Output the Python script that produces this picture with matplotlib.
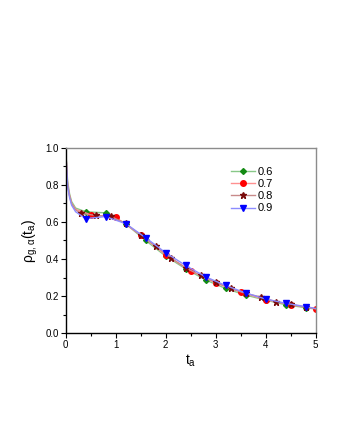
"""Relaxation of rho_{g,alpha}(t_a) for several alpha values."""

import matplotlib.pyplot as plt
from matplotlib.ticker import MultipleLocator

plt.rcParams["font.family"] = ["Liberation Sans", "DejaVu Sans"]

labels = ["0.6", "0.7", "0.8", "0.9"]
x_ticks = [0, 1, 2, 3, 4, 5]
y_ticks = [0.0, 0.2, 0.4, 0.6, 0.8, 1.0]

# unmarked points describing the steep initial drop
t_head = [0.0, 0.04, 0.08, 0.12, 0.2]

t_06 = t_head + [0.4, 0.8, 1.2, 1.6, 2.0, 2.4, 2.8, 3.2, 3.6, 4.0, 4.4, 4.8, 5.0]
rho_06 = [1.0, 0.82, 0.75, 0.71, 0.675,
          0.655, 0.649, 0.590, 0.500, 0.416, 0.347, 0.287, 0.241, 0.205, 0.178, 0.153, 0.137, 0.130]

t_07 = t_head + [0.5, 1.0, 1.5, 2.0, 2.5, 3.0, 3.5, 4.0, 4.5, 5.0]
rho_07 = [1.0, 0.80, 0.74, 0.70, 0.668,
          0.639, 0.625, 0.530, 0.422, 0.336, 0.271, 0.221, 0.180, 0.154, 0.131]

t_08 = t_head + [0.3, 0.6, 0.9, 1.2, 1.5, 1.8, 2.1, 2.4, 2.7, 3.0, 3.3, 3.6, 3.9, 4.2, 4.5, 4.8, 5.0]
rho_08 = [1.0, 0.80, 0.74, 0.70, 0.665,
          0.647, 0.635, 0.630, 0.592, 0.528, 0.470, 0.407, 0.352, 0.312, 0.274, 0.241, 0.214, 0.195,
          0.170, 0.155, 0.140, 0.131]

t_09 = t_head + [0.4, 0.8, 1.2, 1.6, 2.0, 2.4, 2.8, 3.2, 3.6, 4.0, 4.4, 4.8, 5.0]
rho_09 = [1.0, 0.79, 0.73, 0.69, 0.655,
          0.618, 0.629, 0.591, 0.515, 0.434, 0.365, 0.304, 0.257, 0.217, 0.184, 0.161, 0.143, 0.133]

# (t, rho, line colour, marker colour, marker, size, mark last point)
series = [
    (t_06, rho_06, "#88c888", "#138a13", "D", 3.0, False),
    (t_07, rho_07, "#ff9090", "#ff0000", "o", 4.0, True),
    (t_08, rho_08, "#c88a8a", "#7a0a0a", "*", 5.0, False),
    (t_09, rho_09, "#8c8cff", "#0000ff", "v", 4.4, False),
]

fig = plt.figure(figsize=(3.4, 4.4), dpi=100)
ax = fig.add_axes([0.193, 0.243, 0.735, 0.421])

n_head = len(t_head)
for (t, rho, line_c, mark_c, marker, ms, last), label in zip(series, labels):
    stop = len(t) if last else len(t) - 1
    ax.plot(t, rho, color=line_c, lw=1.0, marker=marker, ms=ms,
            mfc=mark_c, mec=mark_c, markevery=list(range(n_head, stop)),
            label=label)

ax.set_xlim(0, 5)
ax.set_ylim(0, 1.0)
ax.set_xticks(x_ticks)
ax.set_xticklabels([str(v) for v in x_ticks])
ax.set_yticks(y_ticks)
ax.set_yticklabels([f"{v:.1f}" for v in y_ticks])
ax.xaxis.set_minor_locator(MultipleLocator(0.5))
ax.yaxis.set_minor_locator(MultipleLocator(0.1))
ax.tick_params(which="both", direction="out", labelsize=7, top=False, right=False, width=0.8)
ax.tick_params(which="major", length=3.5, pad=1.5)
ax.tick_params(which="minor", length=2)

for side in ("top", "right"):
    ax.spines[side].set_color("#8c8c8c")
for side in ("left", "bottom"):
    ax.spines[side].set_color("black")
for sp in ax.spines.values():
    sp.set_linewidth(1.0)

ax.set_xlabel("t$_{\\mathregular{a}}$", fontsize=10, labelpad=2)
ax.set_ylabel("ρ$_{\\mathregular{g,α}}$(t$_{\\mathregular{a}}$)", fontsize=10, labelpad=4)

ax.legend(loc="upper left", bbox_to_anchor=(0.63, 0.94), frameon=False, fontsize=8,
          handlelength=2.2, handletextpad=0.2, labelspacing=0.2, borderpad=0.2)

fig.savefig("out.png", dpi=100)
